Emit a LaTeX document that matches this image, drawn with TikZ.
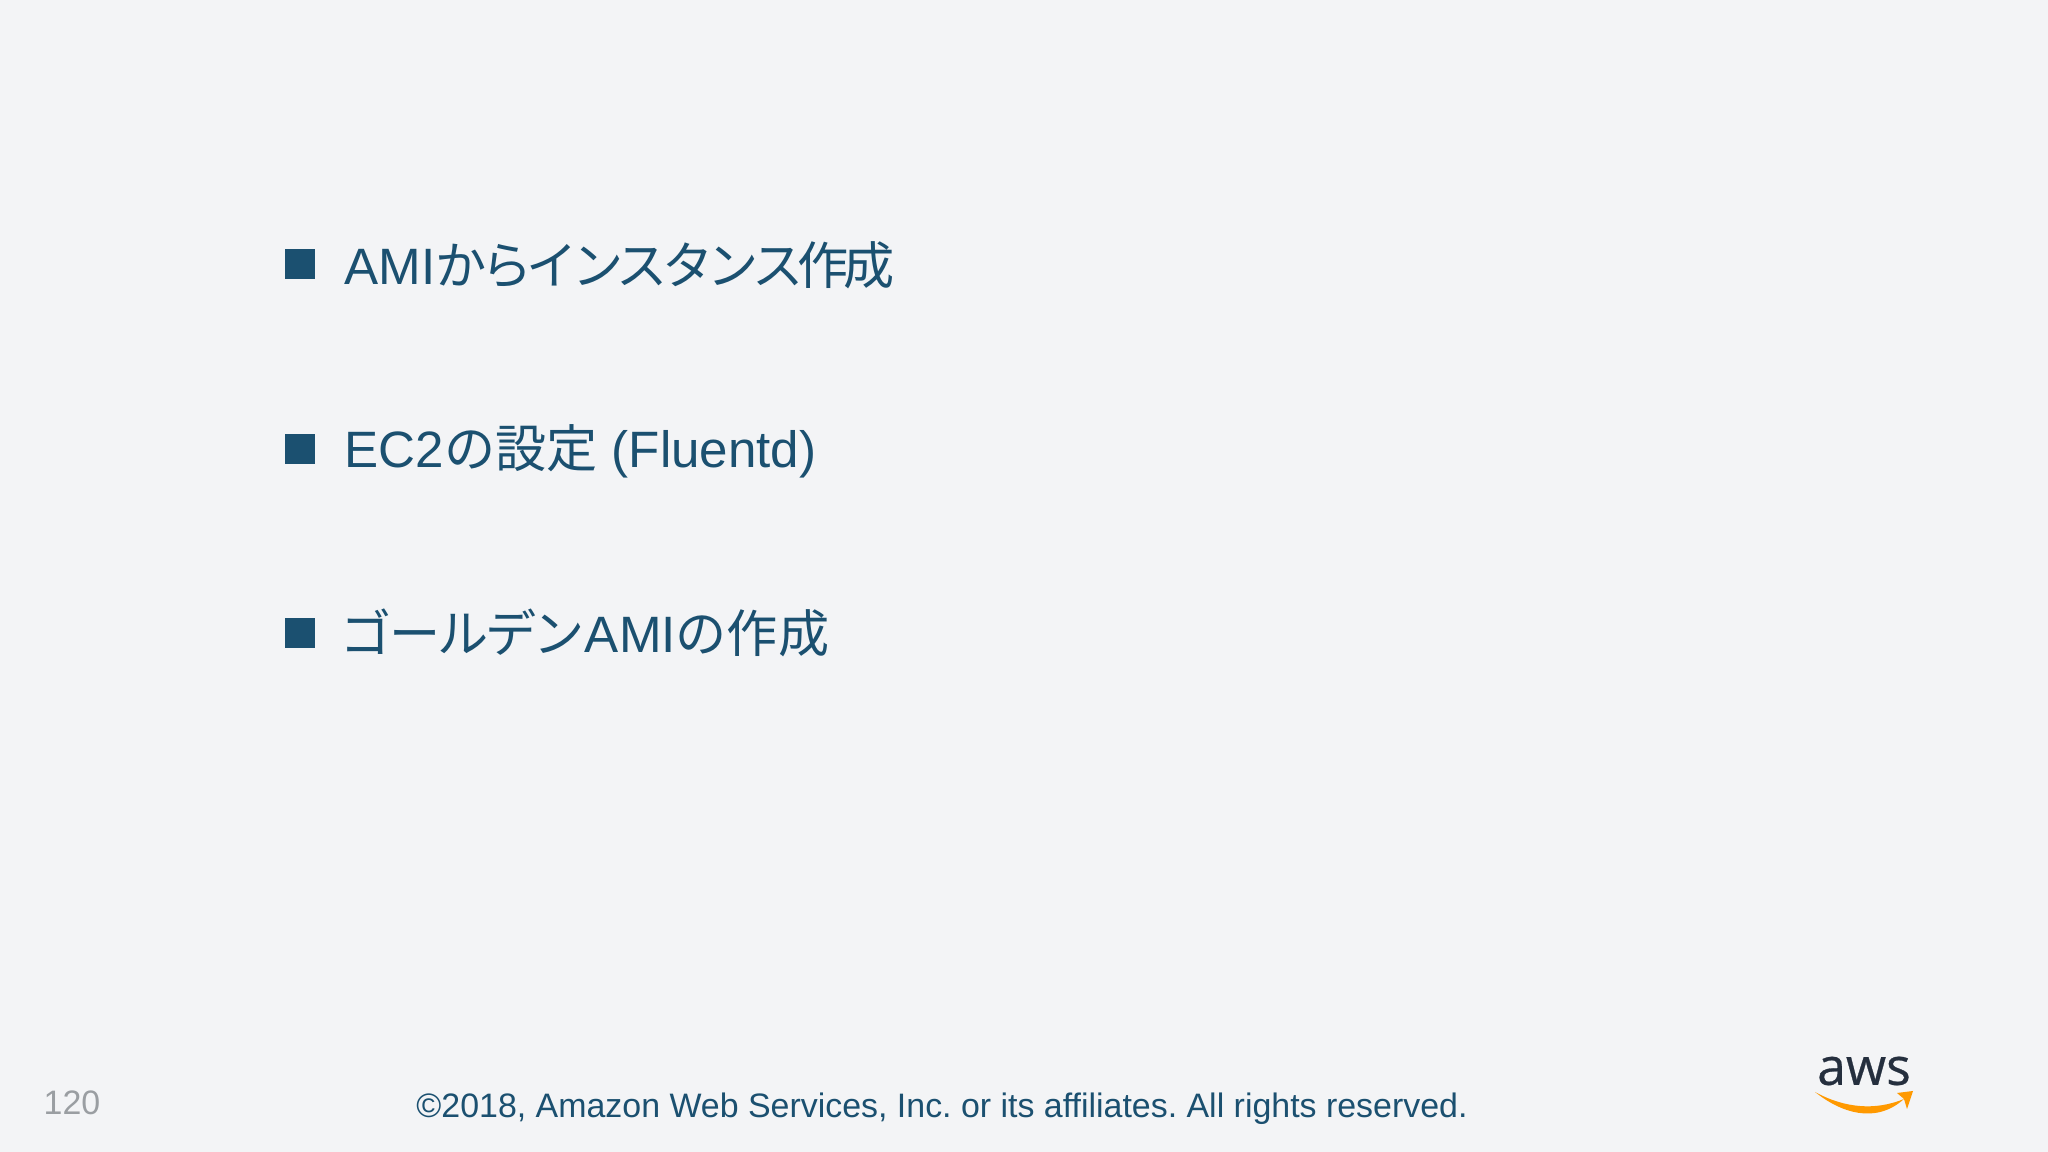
\documentclass[tikz,border=0pt]{standalone}
\usepackage{fontspec}
\setmainfont{Liberation Sans}
\newfontfamily\jpfont{Noto Sans CJK JP}
\newfontfamily\jptight[LetterSpace=-11]{Noto Sans CJK JP}
\newfontfamily\jpclose[LetterSpace=-5.6]{Noto Sans CJK JP}
\newfontfamily\logofont[FakeBold=0.5]{Open Sans}
\newcommand{\jp}[1]{{\jpfont #1}}
\definecolor{slidebg}{HTML}{F3F4F6}
\definecolor{slideblue}{HTML}{1B5070}
\definecolor{pagegray}{HTML}{9A9EA2}
\definecolor{logoink}{HTML}{252F3E}
\definecolor{logoorange}{HTML}{FF9900}
\tikzset{
  marker/.style={fill=slideblue, minimum width=0.30cm, minimum height=0.30cm, inner sep=0pt},
  item/.style={anchor=base west, inner sep=0pt, text=slideblue, font=\fontsize{14.55}{16}\selectfont},
  footer/.style={inner sep=0pt, anchor=base, font=\fontsize{9.65}{12}\selectfont},
}

\begin{document}
\frenchspacing
\begin{tikzpicture}
  \useasboundingbox[fill=slidebg] (0,0) rectangle (20.48,11.52);
  \node[marker] (m1) at (3.00,8.88) {};
  \node[marker] (m2) at (3.00,7.03) {};
  \node[marker] (m3) at (3.00,5.19) {};
  \node[item] (t1) at (3.44,8.67) {AMI{\jptight からインスタンス作成}};
  \node[item] (t2) at (3.44,6.84) {EC2\jp{の設定} (Fluentd)};
  \node[item] (t3) at (3.40,4.99) {{\jpclose ゴールデン}AMI\jp{の作成}};
  \node[footer, text=pagegray] (page) at (0.72,0.37) {120};
  \node[footer, text=slideblue] (copy) at (9.42,0.34) {©2018, Amazon Web Services, Inc. or its affiliates. All rights reserved.};
  \node[text=logoink, font=\logofont\fontsize{14.7}{16}\selectfont, inner sep=0pt] (aws) at (18.64,0.81) {aws};
  % smile under the logo
  \fill[logoorange] (18.15,0.60) .. controls (18.40,0.40) and (18.75,0.27) .. (19.04,0.53)
    .. controls (18.75,0.41) and (18.44,0.44) .. (18.15,0.60) -- cycle;
  \fill[logoorange] (18.97,0.59) -- (19.13,0.61) -- (19.07,0.43) -- (19.04,0.53) -- cycle;
\end{tikzpicture}
\end{document}
